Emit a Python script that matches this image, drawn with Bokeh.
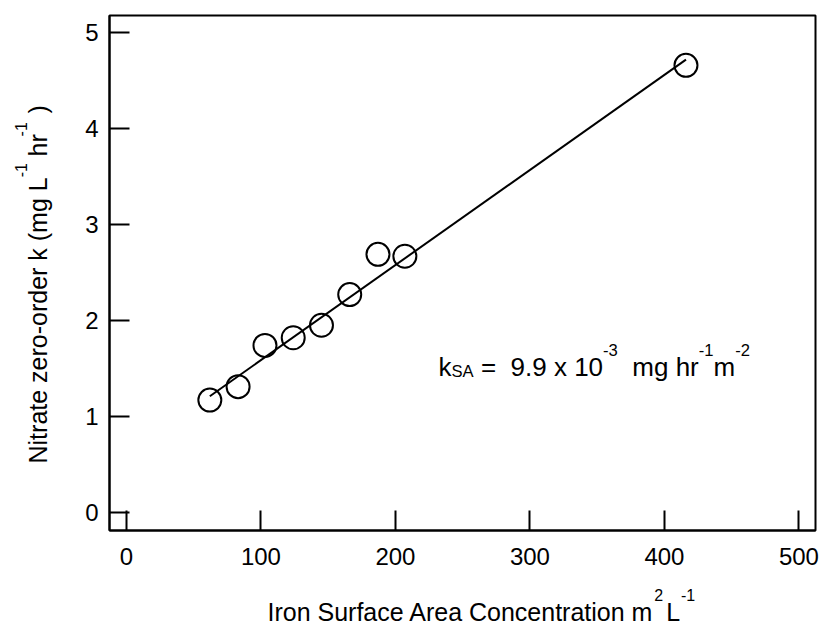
import math
from bokeh.plotting import figure
from bokeh.models import Range1d, Label, FixedTicker
from bokeh.embed import file_html
from bokeh.resources import INLINE

# ---- data ----
iron_sa = [62, 83, 103, 124, 145, 166, 187, 207, 416]
nitrate_k = [1.17, 1.31, 1.74, 1.82, 1.95, 2.27, 2.69, 2.67, 4.66]
fit_x = [62, 416]
fit_y = [1.21, 4.72]
x_ticks = [0, 100, 200, 300, 400, 500]
y_ticks = [0, 1, 2, 3, 4, 5]

x_title_main = ["Iron Surface Area Concentration m", "L"]
x_title_sup = ["2", "-1"]
y_title_main = ["Nitrate zero-order k (mg L", "hr", ")"]
y_title_sup = ["-1", "-1"]
note_parts = [("k", "main"), ("SA", "sub"), (" =  9.9 x 10", "main"), ("-3", "sup"),
              ("  mg hr", "main"), ("-1", "sup"), ("m", "main"), ("-2", "sup")]
note_pos = (232, 1.42)

FONT = "Liberation Sans"
TICK_SIZE = 24
LABEL_SIZE = 25
NOTE_SIZE = 26
SUP_SCALE = 0.64
RAISE = 0.78
BASE_FIX = 0.36   # the rendered baseline sits ~0.36 em below the anchor
NB = "\u00a0"

XR = (-12.6, 512.3)
YR = (-0.19, 5.18)
FRAME = dict(left=109, right=815, top=15, bottom=530)

# Arial / Liberation Sans advance widths (per 1000 em)
AW = {' ': 278, NB: 278, '(': 333, ')': 333, '-': 333, '.': 278, '=': 584, 'A': 667, 'C': 722,
      'I': 278, 'L': 556, 'N': 722, 'S': 667, 'a': 556, 'c': 500, 'd': 556, 'e': 556,
      'f': 278, 'g': 556, 'h': 556, 'i': 222, 'k': 500, 'm': 833, 'n': 556, 'o': 556,
      'r': 333, 't': 278, 'u': 556, 'x': 500, 'z': 500}


def tw(s, size):
    return sum(AW.get(c, 556) for c in s) / 1000.0 * size


def dx(px):
    return XR[0] + (px - FRAME["left"]) / (FRAME["right"] - FRAME["left"]) * (XR[1] - XR[0])


def dy(py):
    return YR[0] + (FRAME["bottom"] - py) / (FRAME["bottom"] - FRAME["top"]) * (YR[1] - YR[0])


p = figure(width=820, height=625, output_backend="svg", toolbar_location=None,
           x_range=Range1d(*XR), y_range=Range1d(*YR),
           min_border_left=109, min_border_right=5, min_border_top=15, min_border_bottom=95)
p.background_fill_color = "white"
p.border_fill_color = "white"
p.grid.visible = False
p.outline_line_color = "black"
p.outline_line_width = 2

for ax, ticks in ((p.xaxis, x_ticks), (p.yaxis, y_ticks)):
    ax.ticker = FixedTicker(ticks=ticks)
    ax.axis_line_width = 2
    ax.axis_line_color = "black"
    ax.major_tick_in = 20
    ax.major_tick_out = 0
    ax.major_tick_line_width = 2
    ax.major_tick_line_color = "black"
    ax.minor_tick_in = 0
    ax.minor_tick_out = 0
    ax.major_label_text_font = FONT
    ax.major_label_text_font_size = f"{TICK_SIZE}px"
    ax.major_label_text_color = "black"
p.yaxis.major_label_standoff = 11
p.xaxis.major_label_standoff = 17

p.line(fit_x, fit_y, line_color="black", line_width=2)
p.scatter(iron_sa, nitrate_k, marker="circle", size=23, fill_color=None,
          line_color="black", line_width=2)


def label(text, x, y, size, angle=0.0, side="center", xo=0.0, yo=0.0):
    # compensate the baseline drop, perpendicular to the reading direction
    fix = BASE_FIX * size
    if angle:
        xo -= fix
    else:
        yo += fix
    lab = Label(x=x, y=y, x_units="data", y_units="data", text=text, angle=angle,
                x_offset=xo, y_offset=yo,
                text_font=FONT, text_font_size=f"{size:.1f}px", text_color="black",
                text_align="left", text_baseline="alphabetic")
    p.add_layout(lab, side)


def fill(gap, size):
    n = max(1, int(round(gap / tw(NB, size))))
    return NB * n


# ---- axis titles (main text + superscripts, placed in the side panels) ----
sup = LABEL_SIZE * SUP_SCALE
raise_px = RAISE * LABEL_SIZE

# x title: start at canvas x=267, baseline y=620
x0, yb = 267, 620
gap_main = NB * 2
x_main = x_title_main[0] + gap_main + x_title_main[1]
pos_s1 = tw(x_title_main[0], LABEL_SIZE) + 0.5
pos_L = tw(x_title_main[0] + gap_main, LABEL_SIZE)
pos_s2 = pos_L + tw(x_title_main[1], LABEL_SIZE)
x_sup = x_title_sup[0] + fill(pos_s2 - pos_s1 - tw(x_title_sup[0], sup), sup) + x_title_sup[1]
label(x_main, dx(x0), dy(yb), LABEL_SIZE, side="below")
label(x_sup, dx(x0 + pos_s1), dy(yb - raise_px), sup, side="below")

# y title: start at canvas y=463 (reading upwards), baseline x=46
xb, y0 = 46, 463
g = NB * 3
y_main = y_title_main[0] + g + y_title_main[1] + g + y_title_main[2]
pos_a = tw(y_title_main[0], LABEL_SIZE)
pos_b = tw(y_title_main[0] + g + y_title_main[1], LABEL_SIZE)
y_sup = y_title_sup[0] + fill(pos_b - pos_a - tw(y_title_sup[0], sup), sup) + y_title_sup[1]
label(y_main, dx(xb), dy(y0), LABEL_SIZE, angle=math.pi / 2, side="left")
label(y_sup, dx(xb - raise_px), dy(y0 - pos_a), sup, angle=math.pi / 2, side="left")

# ---- in-plot annotation ----
pos = 0.0
for text, kind in note_parts:
    s = NOTE_SIZE if kind == "main" else NOTE_SIZE * SUP_SCALE
    shift = RAISE * NOTE_SIZE if kind == "sup" else (-0.06 * NOTE_SIZE if kind == "sub" else 0.0)
    t = text.replace(" ", NB)
    label(t, note_pos[0], note_pos[1], s, xo=pos, yo=shift)
    pos += tw(t, s)

open("out.html", "w").write(file_html(p, INLINE))
